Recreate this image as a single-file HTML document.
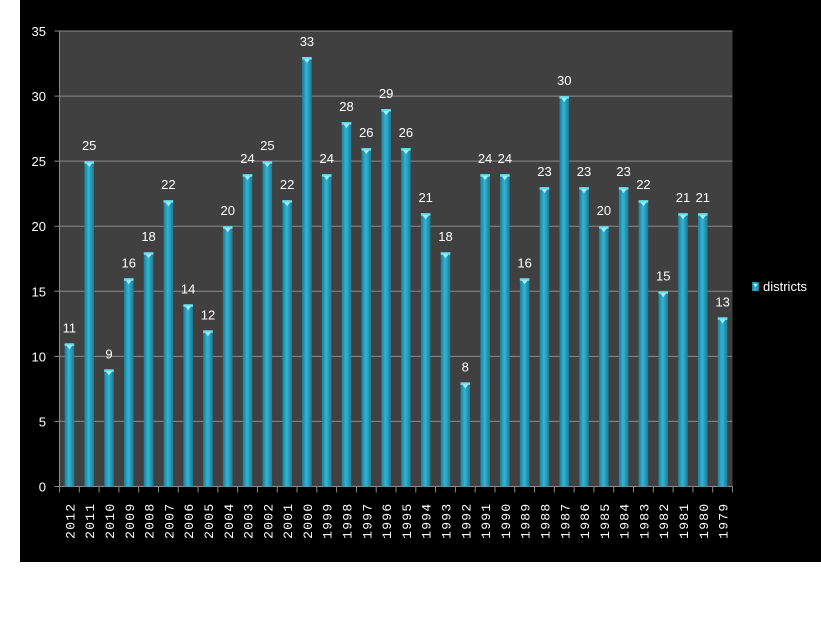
<!DOCTYPE html>
<html><head><meta charset="utf-8"><style>
html,body{margin:0;padding:0;background:#fff;}
svg{display:block;}
</style></head><body>
<svg width="821" height="619" xmlns="http://www.w3.org/2000/svg" font-family="Liberation Sans, sans-serif">
<defs>
<linearGradient id="bg" x1="0" x2="1" y1="0" y2="0">
<stop offset="0" stop-color="#1b7f9a"/><stop offset="0.45" stop-color="#34b4d4"/><stop offset="1" stop-color="#1a7a94"/>
</linearGradient>
</defs>
<rect x="20" y="0" width="801" height="562" fill="#000"/>
<rect x="59.5" y="31" width="673" height="455.5" fill="#404040"/>
<g id="g"></g>
</svg>
<script>
const vals=[11,25,9,16,18,22,14,12,20,24,25,22,33,24,28,26,29,26,21,18,8,24,24,16,23,30,23,20,23,22,15,21,21,13];
const yrs=[2012,2011,2010,2009,2008,2007,2006,2005,2004,2003,2002,2001,2000,1999,1998,1997,1996,1995,1994,1993,1992,1991,1990,1989,1988,1987,1986,1985,1984,1983,1982,1981,1980,1979];
let s='';
const x0=59.5,w=673,base=486.5,u=13.014,cw=w/34;
for(let k=0;k<=7;k++){const y=base-k*5*u;
s+=`<line x1="${x0-5}" x2="${x0+w}" y1="${y}" y2="${y}" stroke="#8a8a8a" stroke-width="1"/>`;
s+=`<text x="46" y="${y+5}" fill="#fff" font-size="13" text-anchor="end">${k*5}</text>`;}
s+=`<line x1="${x0}" x2="${x0}" y1="31" y2="${base}" stroke="#8a8a8a"/>`;
for(let i=0;i<=34;i++){const x=x0+i*cw;s+=`<line x1="${x}" x2="${x}" y1="${base}" y2="${base+6}" stroke="#8a8a8a"/>`;}
vals.forEach((v,i)=>{const cx=x0+(i+0.5)*cw,t=base-v*u;
s+=`<rect x="${cx-4.8}" y="${t}" width="9.6" height="${base-t}" fill="url(#bg)"/>`;
s+=`<rect x="${cx-4.8}" y="${t}" width="9.6" height="2.5" fill="#6fdcf0"/>`;
s+=`<polygon points="${cx-3},${t+2} ${cx+3},${t+2} ${cx},${t+6}" fill="#9ef0ff"/>`;
s+=`<text x="${cx}" y="${t-11}" fill="#fff" font-size="13" text-anchor="middle">${v}</text>`;
s+=`<text transform="translate(${cx+5},${base+16}) rotate(-90)" fill="#fff" font-size="13" letter-spacing="1.3" font-family="Liberation Mono, monospace" text-anchor="end">${yrs[i]}</text>`;});
s+=`<rect x="752" y="282" width="7" height="9" fill="url(#bg)"/><polygon points="753,284 758,284 755.5,287" fill="#9ef0ff"/>`;
s+=`<text x="763" y="291" fill="#fff" font-size="13">districts</text>`;
document.getElementById('g').innerHTML=s;
</script>
</body></html>
